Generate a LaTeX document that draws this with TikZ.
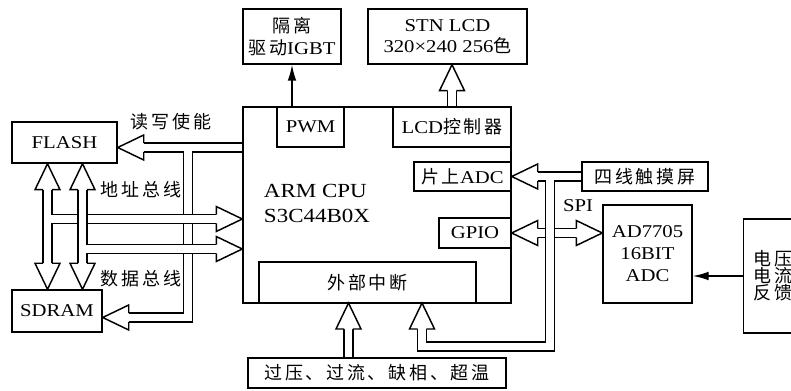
\documentclass[tikz,border=0pt]{standalone}
\usepackage{fontspec}
\setmainfont[FakeStretch=1.15]{Liberation Serif}
\newfontfamily\cjk[LetterSpace=15]{Noto Sans CJK SC}
\newcommand{\zh}[1]{{\cjk #1}}
\usetikzlibrary{arrows.meta, calc, backgrounds}

\begin{document}
\begin{tikzpicture}[
    x=0.75pt, y=-0.75pt,
    every node/.style={font=\fontsize{13.5}{16}\selectfont},
    box/.style={rectangle, draw, line width=1.1pt, inner sep=2pt, align=center},
    wh/.style 2 args={minimum width=#1*0.75pt, minimum height=#2*0.75pt},
    lbl/.style={inner sep=0pt},
    arr/.style={-{Latex[length=12pt, width=6.5pt]}, line width=1.1pt},
    bus/.style={double, double distance=5.4pt, line width=1.1pt},
    fathead/.pic={\filldraw[fill=white, line width=1.1pt] (-26,4.33) -- (-26,12.5) -- (0,0) -- (-26,-12.5) -- (-26,-4.33);},
]
    \useasboundingbox (0,0) rectangle (791,391);
    \clip (0,0) rectangle (791,391);

    % Top boxes
    \node[box, wh={98}{55}] (igbt) at (292,36.5) {\zh{隔离}\\\zh{驱动}IGBT};
    \node[box, wh={159}{55}] (stn) at (447.5,36.5) {STN LCD\\320×240 256\zh{色}};

    % CPU and its blocks
    \node[box, wh={268}{196}] (cpu) at (377,205) {};
    \node[lbl, font=\fontsize{15}{18.75}\selectfont, align=left] (cpuname) at (317,203) {ARM CPU\\S3C44B0X};
    \node[box, wh={67}{40}] (pwm) at (310.5,127) {PWM};
    \node[box, wh={118}{40}] (lcdc) at (452,127) {LCD\zh{控制器}};
    \node[box, wh={97}{29}] (adc) at (462.5,176.5) {\zh{片上}ADC};
    \node[box, wh={72}{30}] (gpio) at (475,233) {GPIO};
    \node[box, wh={217}{41}] (irq) at (367.5,282.5) {\zh{外部中断}};

    % Peripherals
    \node[box, wh={258}{30}] (fault) at (377,373) {\zh{过压、过流、缺相、超温}};
    \node[box, wh={126}{29}] (touch) at (645,176.5) {\zh{四线触摸屏}};
    \node[box, wh={89}{98}, font=\fontsize{13.5}{16.5}\selectfont] (ad) at (647.5,254) {AD7705\\16BIT\\ADC};
    \node[box, anchor=west, minimum height=114*0.75pt, inner xsep=7.5pt, align=left,
          font=\fontsize{13.5}{12.75}\selectfont] (fb) at (743,276) {\zh{电压}\\\zh{电流}\\\zh{反馈}};

    % Memories
    \node[box, wh={105}{41}] (flash) at (64.5,142.5) {FLASH};
    \node[box, wh={90}{42}] (sdram) at (57,311) {SDRAM};

    % Labels
    \node[lbl] (rwl) at (171,122) {\zh{读写使能}};
    \node[lbl] (addrl) at (141,190) {\zh{地址总线}};
    \node[lbl] (datal) at (141,279) {\zh{数据总线}};
    \node[lbl] (spil) at (578,206) {SPI};

    % Bend points
    \coordinate (rwt) at (188,147.5);
    \coordinate (rwb) at (188,317.5);
    \coordinate (ab) at (47.5,219);
    \coordinate (db) at (82.5,249);
    \coordinate (spl) at (550,176.5);
    \coordinate (low) at (422,346.5);
    \coordinate (irqL) at (348.5,303);
    \coordinate (irqR) at (422,303);

    \begin{scope}[on background layer]
    \fill[white] (0,0) rectangle (791,391);

    % thin arrows
    \draw[arr] (igbt.south |- pwm.north) -- (igbt.south);
    \draw[arr] (fb.west) -- (fb.west -| ad.east);

    % LCD
    \draw[bus] (lcdc.north) -- ($(lcdc.north |- stn.south)+(0,26)$);
    \pic[rotate=90] at (lcdc.north |- stn.south) {fathead};

    % GPIO <-> AD7705
    \draw[bus] ($(gpio.east)+(26,0)$) -- ($(gpio.east -| ad.west)+(-26,0)$);
    \pic[rotate=180] at (gpio.east) {fathead};
    \pic at (gpio.east -| ad.west) {fathead};

    % touch screen -> ADC, and down to interrupt
    \draw[bus] (touch.west) -- ($(adc.east)+(26,0)$) (spl) |- (low) -- ($(irqR)+(0,26)$);
    \pic[rotate=180] at (adc.east) {fathead};
    \pic[rotate=90] at (irqR) {fathead};

    % faults -> interrupt
    \draw[bus] (irqL |- fault.north) -- ($(irqL)+(0,26)$);
    \pic[rotate=90] at (irqL) {fathead};

    % read / write enable
    \draw[bus] (cpu.west |- rwt) -- ($(flash.east |- rwt)+(26,0)$) (rwt) -- (rwb) -- ($(sdram.east |- rwb)+(26,0)$);
    \pic[rotate=180] at (flash.east |- rwt) {fathead};
    \pic[rotate=180] at (sdram.east |- rwb) {fathead};

    % address and data bus
    \draw[bus] ($(ab |- flash.south)+(0,26)$) -- ($(ab |- sdram.north)+(0,-26)$) (ab) -- ($(cpu.west |- ab)+(-26,0)$);
    \draw[bus] ($(db |- flash.south)+(0,26)$) -- ($(db |- sdram.north)+(0,-26)$) (db) -- ($(cpu.west |- db)+(-26,0)$);
    \pic[rotate=90] at (ab |- flash.south) {fathead};
    \pic[rotate=-90] at (ab |- sdram.north) {fathead};
    \pic[rotate=90] at (db |- flash.south) {fathead};
    \pic[rotate=-90] at (db |- sdram.north) {fathead};
    \pic at (cpu.west |- ab) {fathead};
    \pic at (cpu.west |- db) {fathead};
    \end{scope}
\end{tikzpicture}
\end{document}
